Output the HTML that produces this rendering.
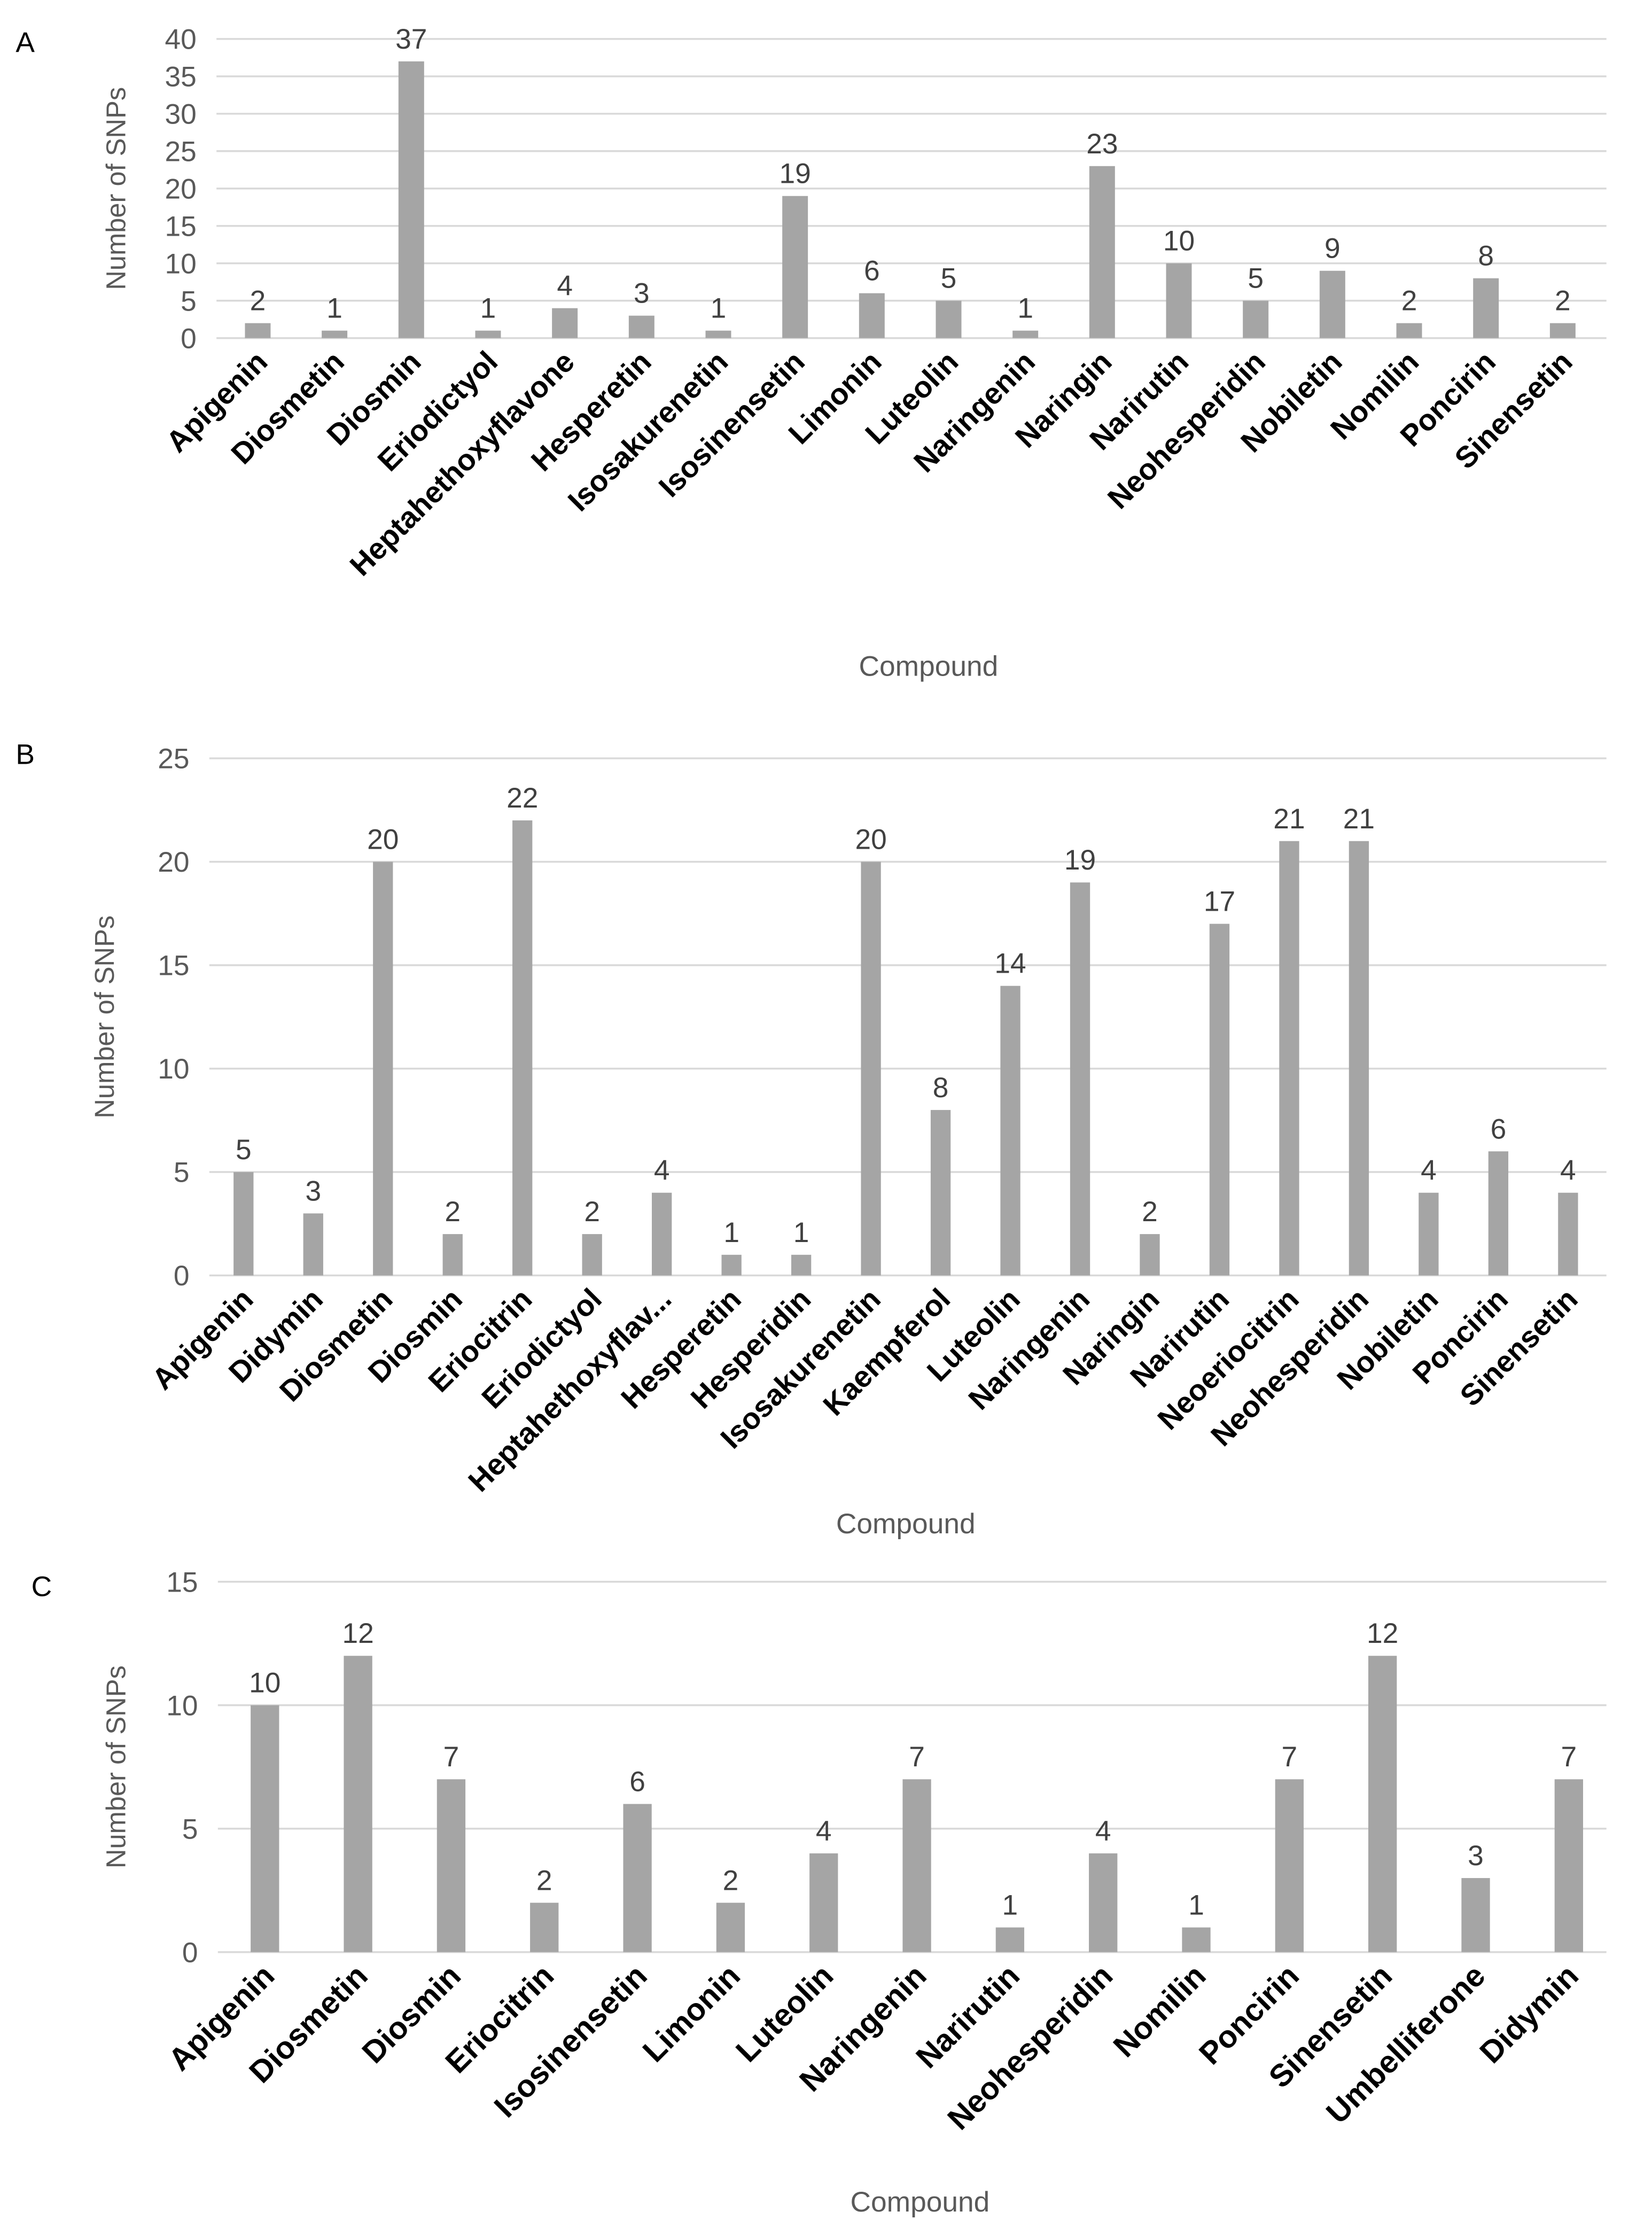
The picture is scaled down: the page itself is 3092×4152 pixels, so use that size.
<!DOCTYPE html>
<html><head><meta charset="utf-8"><style>
html,body{margin:0;padding:0;background:#fff}
svg{display:block}
text{font-family:"Liberation Sans",sans-serif}
</style></head><body>
<svg id="fig" width="3092" height="4152" viewBox="0 0 1160 1557" xmlns="http://www.w3.org/2000/svg"></svg>
<script>
const catsA=["Apigenin","Diosmetin","Diosmin","Eriodictyol","Heptahethoxyflavone","Hesperetin","Isosakurenetin","Isosinensetin","Limonin","Luteolin","Naringenin","Naringin","Narirutin","Neohesperidin","Nobiletin","Nomilin","Poncirin","Sinensetin"];
const valsA=[2,1,37,1,4,3,1,19,6,5,1,23,10,5,9,2,8,2];
const ticksA=[0,5,10,15,20,25,30,35,40];
const catsB=["Apigenin","Didymin","Diosmetin","Diosmin","Eriocitrin","Eriodictyol","Heptahethoxyflav...","Hesperetin","Hesperidin","Isosakurenetin","Kaempferol","Luteolin","Naringenin","Naringin","Narirutin","Neoeriocitrin","Neohesperidin","Nobiletin","Poncirin","Sinensetin"];
const valsB=[5,3,20,2,22,2,4,1,1,20,8,14,19,2,17,21,21,4,6,4];
const ticksB=[0,5,10,15,20,25];
const catsC=["Apigenin","Diosmetin","Diosmin","Eriocitrin","Isosinensetin","Limonin","Luteolin","Naringenin","Narirutin","Neohesperidin","Nomilin","Poncirin","Sinensetin","Umbelliferone","Didymin"];
const valsC=[10,12,7,2,6,2,4,7,1,4,1,7,12,3,7];
const ticksC=[0,5,10,15];

const NS="http://www.w3.org/2000/svg";
const svg=document.getElementById('fig');
function mk(tag,attrs,parent,txt){const e=document.createElementNS(NS,tag);for(const k in attrs)e.setAttribute(k,attrs[k]);if(txt!==undefined)e.textContent=txt;parent.appendChild(e);return e;}

function panel(id,letter,lx,ly,cats,vals,ticks,cfg){
  const g=mk('g',{},svg);
  
  
  const tmax=ticks[ticks.length-1];
  const y=v=>cfg.y0-(v/tmax)*(cfg.y0-cfg.yTop);
  const x=i=>cfg.x0+i*cfg.step;
  const L=mk('text',{x:lx,y:ly,'font-size':20,fill:'#000'},g,letter);
  
  
  ticks.forEach(t=>{
    const ln=mk('line',{x1:cfg.left,x2:1128,y1:y(t),y2:y(t),stroke:'#d9d9d9','stroke-width':1.3},g);
    
    
    const tx=mk('text',{x:cfg.left-14,y:y(t)+7,'font-size':20,fill:'#595959','text-anchor':'end'},g,String(t));
    
    
  });
  const yt=mk('text',{x:0,y:0,'font-size':19,fill:'#595959','text-anchor':'middle',transform:`translate(${cfg.ytx},${(cfg.y0+cfg.yTop)/2}) rotate(-90)`},g,'Number of SNPs');
  
  
  vals.forEach((v,i)=>{
    const b=mk('rect',{x:x(i)-cfg.bw/2,y:y(v),width:cfg.bw,height:cfg.y0-y(v),fill:'#a5a5a5'},g);
    
    
    const vl=mk('text',{x:x(i),y:y(v)-9,'font-size':20,fill:'#404040','text-anchor':'middle'},g,String(v));
    
    
    const cx=x(i)+8, cy=cfg.y0+18;
    const cl=mk('text',{x:0,y:0,'font-size':cfg.fs,'font-weight':'bold',fill:'#000','text-anchor':'end',transform:`translate(${cx},${cy}) rotate(-45)`},g,cats[i]);
    
    
  });
  const xt=mk('text',{x:cfg.xtx,y:cfg.xty,'font-size':20,fill:'#595959','text-anchor':'middle'},g,'Compound');
  
  
}
panel('a','A',11,36,catsA,valsA,ticksA,{left:152,x0:181,step:53.9,bw:18,y0:237,yTop:27,ytx:88,xtx:652,xty:474,fs:21});
panel('b','B',11,536,catsB,valsB,ticksB,{left:147,x0:171,step:48.95,bw:14,y0:895,yTop:532,ytx:80,xtx:636,xty:1076,fs:21});
panel('c','C',22,1120,catsC,valsC,ticksC,{left:153,x0:186,step:65.4,bw:20,y0:1370,yTop:1110,ytx:88,xtx:646,xty:1552,fs:22});
</script>
</body></html>
